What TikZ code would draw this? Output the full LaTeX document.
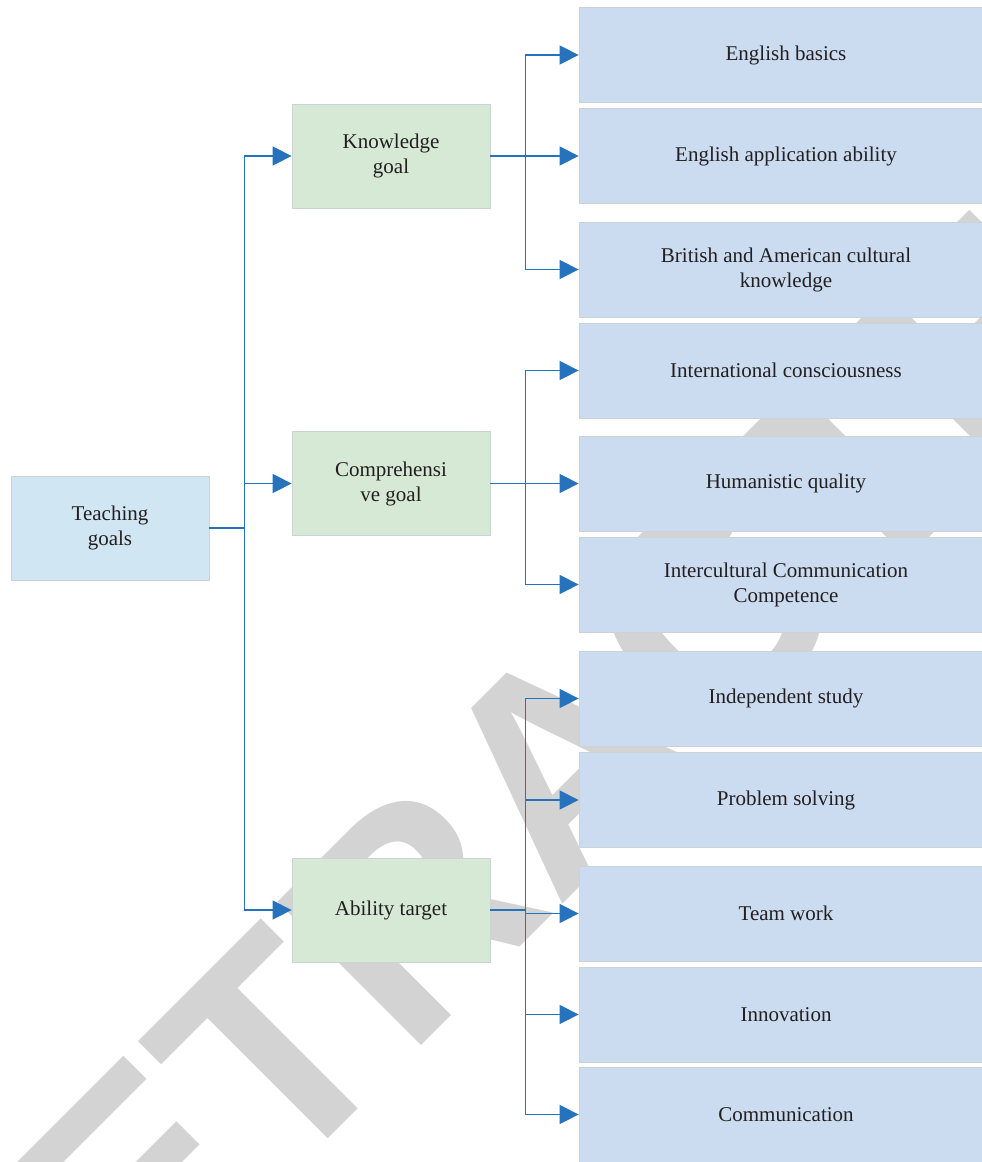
\documentclass[tikz,border=0pt]{standalone}
\usepackage{fontspec}
\setmainfont{Liberation Serif}
\newfontfamily\wmfamily{Liberation Sans}
\usetikzlibrary{arrows.meta}
\definecolor{tgfill}{RGB}{209,230,243}
\definecolor{gfill}{RGB}{214,233,213}
\definecolor{bfill}{RGB}{203,219,240}
\definecolor{boxline}{RGB}{205,210,215}
\definecolor{txt}{RGB}{35,31,32}
\definecolor{conncol}{RGB}{38,114,188}
\definecolor{wmgray}{RGB}{211,211,211}
\begin{document}
\begin{tikzpicture}[x=1pt,y=-1pt,
  box/.style={draw=boxline, line width=0.8pt, inner sep=0pt, align=center,
    text=txt, font=\fontsize{21}{25}\selectfont},
  leftbox/.style={box, fill=tgfill, minimum width=198pt, minimum height=104pt},
  goalbox/.style={box, fill=gfill, minimum width=198pt, minimum height=104pt},
  itembox/.style={box, fill=bfill, minimum width=414pt, minimum height=95pt},
  conn/.style={draw=conncol, line width=1.4pt, -{Triangle[length=19pt,width=19pt]}},
  wm/.style={inner sep=0pt, text=wmgray, font=\wmfamily\bfseries\fontsize{295}{300}\selectfont}
]
\clip (0,0) rectangle (982,1162);
\fill[white] (0,0) rectangle (982,1162);
% watermark
\node[wm, rotate=45, anchor=base west] (wmark) at (-10,1477) {RETRACTED};
% nodes
\node[leftbox] (tg) at (110,528) {Teaching\\goals};
\node[goalbox] (kg) at (391,156) {Knowledge\\goal};
\node[goalbox] (cg) at (391,483.5) {Comprehensi\\ve goal};
\node[goalbox] (ag) at (391,910) {Ability target};
\node[itembox] (r1) at (786,55) {English basics};
\node[itembox] (r2) at (786,156) {English application ability};
\node[itembox] (r3) at (786,269.5) {British and American cultural\\knowledge};
\node[itembox] (r4) at (786,370.5) {International consciousness};
\node[itembox] (r5) at (786,483.5) {Humanistic quality};
\node[itembox] (r6) at (786,584.5) {Intercultural Communication\\Competence};
\node[itembox] (r7) at (786,698.5) {Independent study};
\node[itembox] (r8) at (786,800) {Problem solving};
\node[itembox] (r9) at (786,913.5) {Team work};
\node[itembox] (r10) at (786,1014.5) {Innovation};
\node[itembox] (r11) at (786,1114.5) {Communication};
% connectors
\foreach \t in {kg,cg,ag}{\draw[conn] (tg.east) -- ++(35,0) |- (\t.west);}
\foreach \t in {r1,r2,r3}{\draw[conn] (kg.east) -- ++(35,0) |- (\t.west);}
\foreach \t in {r4,r5,r6}{\draw[conn] (cg.east) -- ++(35,0) |- (\t.west);}
\foreach \t in {r7,r8,r9,r10,r11}{\draw[conn] (ag.east) -- ++(35,0) |- (\t.west);}
\end{tikzpicture}
\end{document}
